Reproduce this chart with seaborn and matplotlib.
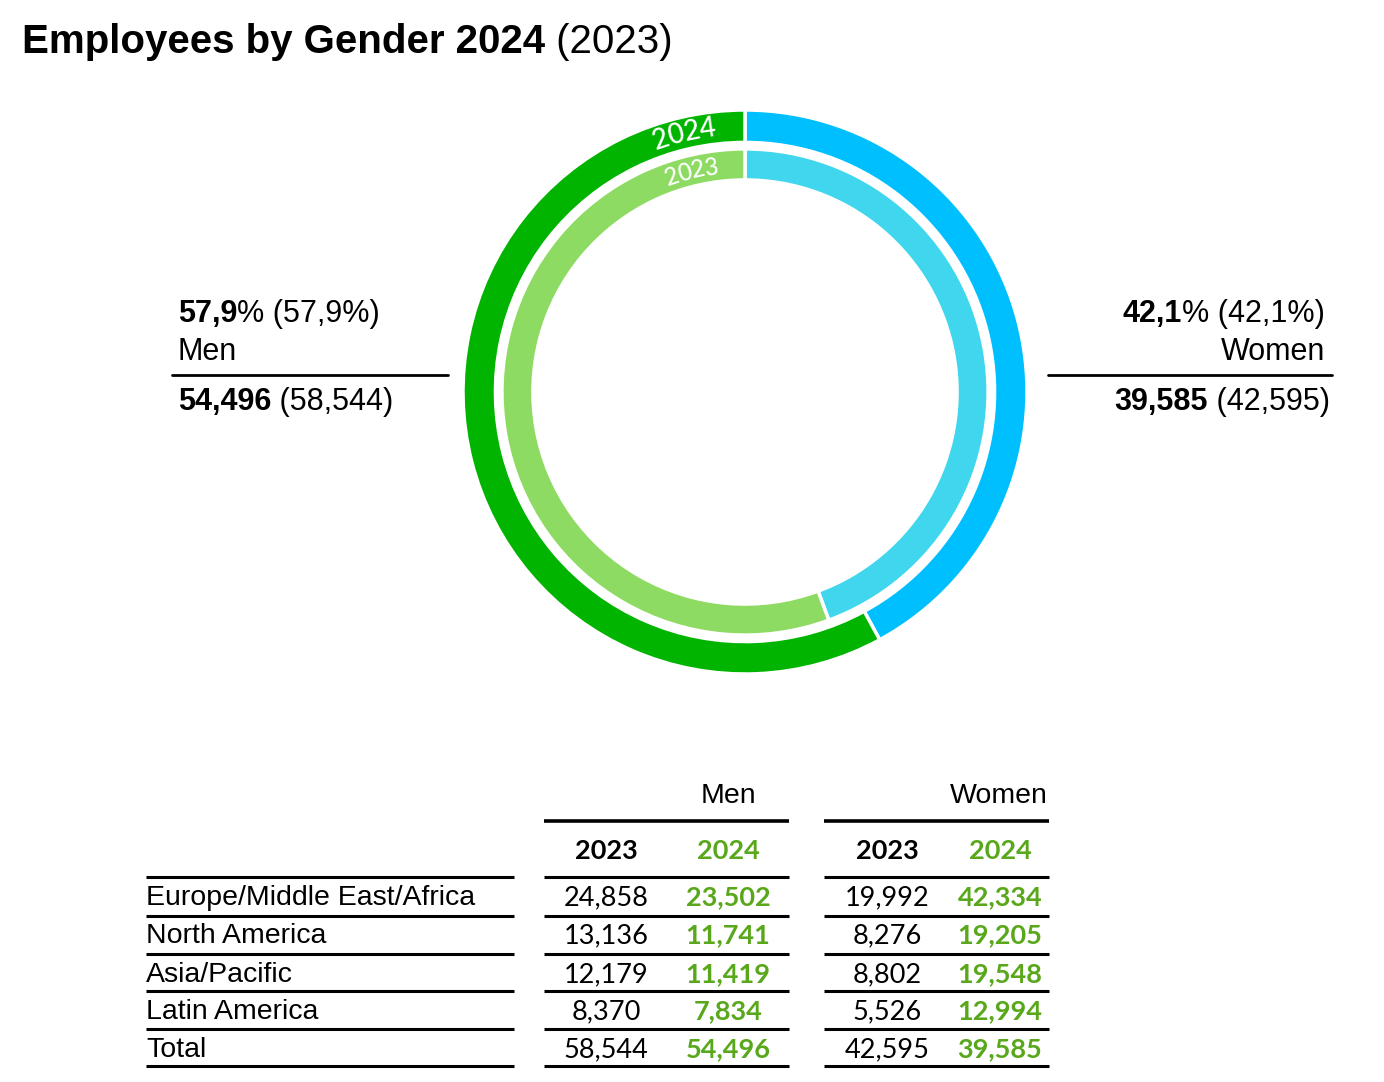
import numpy as np
import pandas as pd
import matplotlib
matplotlib.use("Agg")
import matplotlib.pyplot as plt
import seaborn as sns

# canvas size in pixels
W, H = 1384, 1082

# ring data (outer = 2024, inner = 2023), order: women, men
ring_genders = ['Women', 'Men']
ring_2024 = [39585, 54496]
ring_2023 = [44.4, 55.6]  # shares as the inner ring is drawn in the source

share_2024 = ['42,1', '57,9']
share_2023 = ['42,1', '57,9']
total_2024 = ['39,585', '54,496']
total_2023 = ['42,595', '58,544']

# table data
regions = ['Europe/Middle East/Africa', 'North America', 'Asia/Pacific',
           'Latin America', 'Total']
men_2023 = [24858, 13136, 12179, 8370, 58544]
men_2024 = [23502, 11741, 11419, 7834, 54496]
women_2023 = [19992, 8276, 8802, 5526, 42595]
women_2024 = [42334, 19205, 19548, 12994, 39585]

GREEN = '#00b400'
LGREEN = '#8edb63'
BLUE = '#00bfff'
LBLUE = '#40d6ee'
TGREEN = '#59a81b'

sns.set_theme(style="white")
plt.rcParams['font.family'] = ['Liberation Sans', 'DejaVu Sans']
plt.rcParams['text.color'] = 'black'

fig = plt.figure(figsize=(W / 100, H / 100), dpi=100)
fig.patch.set_facecolor('white')
ax = fig.add_axes([0, 0, 1, 1])
ax.set_xlim(0, W)
ax.set_ylim(H, 0)
ax.axis('off')
rend = fig.canvas.get_renderer()


def rich(x, y, parts, ha='left', size=22, family=None):
    # draw a line of text made of (text, weight) pieces, baseline at y
    seq = parts if ha == 'left' else parts[::-1]
    for txt, weight in seq:
        kw = {} if family is None else {'family': family}
        t = ax.text(x, y, txt, ha=ha, va='baseline', fontsize=size,
                    fontweight=weight, color='black', **kw)
        w = t.get_window_extent(renderer=rend).width
        x = x + w if ha == 'left' else x - w


# title
rich(22, 53, [('Employees by Gender 2024', 'bold'), (' (2023)', 'normal')], size=29)

# donut
R_PX = 282
cx, cy = 745, 392
ax2 = fig.add_axes([(cx - R_PX) / W, 1 - (cy + R_PX) / H, 2 * R_PX / W, 2 * R_PX / H])
ax2.pie(ring_2024, radius=1.0, colors=[BLUE, GREEN], startangle=90, counterclock=False,
        wedgeprops=dict(width=0.115, edgecolor='white', linewidth=2.5))
ax2.pie(ring_2023, radius=0.862, colors=[LBLUE, LGREEN], startangle=90, counterclock=False,
        wedgeprops=dict(width=0.11, edgecolor='white', linewidth=2.5))
ax2.set_xlim(-1, 1)
ax2.set_ylim(-1, 1)
ax2.set_aspect('equal')
ax2.axis('off')


def arc_text(s, r, center_deg, size):
    widths = []
    for ch in s:
        t = ax2.text(0, 0, ch, fontsize=size, family='Lato')
        widths.append(t.get_window_extent(renderer=rend).width)
        t.remove()
    r_px = r * R_PX
    theta = np.deg2rad(center_deg) + sum(widths) / 2 / r_px
    for ch, w in zip(s, widths):
        mid = theta - w / 2 / r_px
        ax2.text(r * np.cos(mid), r * np.sin(mid), ch, rotation=np.rad2deg(mid) - 90,
                 ha='center', va='center', rotation_mode='anchor', color='white',
                 fontsize=size, family='Lato', fontweight='medium')
        theta -= w / r_px


arc_text('2024', 0.943, 103.3, 20)
arc_text('2023', 0.806, 103.6, 17)

# side labels
rich(178, 322, [(share_2024[1], 'bold'), ('% (' + share_2023[1] + '%)', 'normal')])
ax.text(178, 360, 'Men', ha='left', va='baseline', fontsize=22)
ax.plot([172, 448], [375, 375], color='black', lw=2)
rich(178, 410, [(total_2024[1], 'bold'), (' (' + total_2023[1] + ')', 'normal')])

rich(1325, 322, [(share_2024[0], 'bold'), ('% (' + share_2023[0] + '%)', 'normal')], ha='right')
ax.text(1325, 360, 'Women', ha='right', va='baseline', fontsize=22)
ax.plot([1048, 1332], [375, 375], color='black', lw=2)
rich(1330, 410, [(total_2024[0], 'bold'), (' (' + total_2023[0] + ')', 'normal')], ha='right')

# table
df = pd.DataFrame({'region': regions, 'm23': men_2023, 'm24': men_2024,
                   'w23': women_2023, 'w24': women_2024})
col_x = {'m23': 606, 'm24': 728, 'w23': 887, 'w24': 1000}
groups = [(544, 789), (824, 1049)]

ax.text(756, 803, 'Men', ha='right', va='baseline', fontsize=20.5)
ax.text(1048, 803, 'Women', ha='right', va='baseline', fontsize=20.5)
for x0, x1 in groups:
    ax.plot([x0, x1], [821, 821], color='black', lw=2.6, solid_capstyle='butt')
for key in col_x:
    is24 = key.endswith('24')
    ax.text(col_x[key], 859, '2024' if is24 else '2023', ha='center', va='baseline',
            fontsize=19.5, fontweight='bold', family='Lato',
            color=TGREEN if is24 else 'black')

row_base = [905, 943, 982, 1019, 1057]
line_y = [877, 916, 954, 991, 1029, 1066]
for y in line_y:
    for x0, x1 in [(146, 514)] + groups:
        ax.plot([x0, x1], [y, y], color='black', lw=2.2, solid_capstyle='butt')

for i, row in df.iterrows():
    y = row_base[i]
    ax.text(146, y, row['region'], ha='left', va='baseline', fontsize=20.5)
    for key in col_x:
        is24 = key.endswith('24')
        ax.text(col_x[key], y, f"{row[key]:,}", ha='center', va='baseline',
                fontsize=19.5, family='Lato', fontweight='bold' if is24 else 'normal',
                color=TGREEN if is24 else 'black')

fig.savefig('out.png', dpi=100, facecolor='white')
